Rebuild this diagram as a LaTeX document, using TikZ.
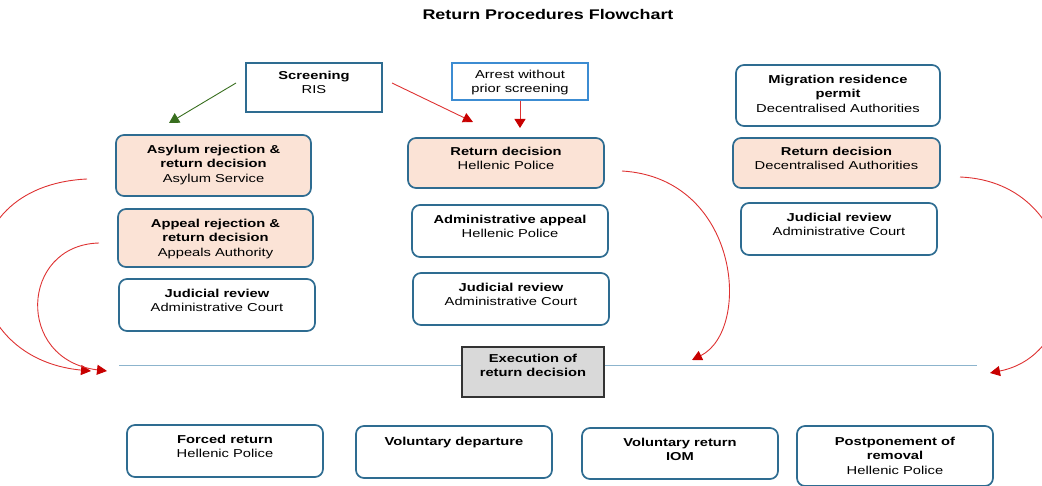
\documentclass[tikz,border=0pt]{standalone}
\usepackage{fontspec}
\setmainfont[FakeStretch=1.28]{Liberation Sans}
\usetikzlibrary{arrows.meta,calc}
\definecolor{boxblue}{RGB}{46,108,145}
\definecolor{peach}{RGB}{251,227,214}
\definecolor{arrred}{RGB}{222,50,50}
\definecolor{headred}{RGB}{200,0,0}
\definecolor{arrgreen}{RGB}{56,110,30}
\definecolor{hline}{RGB}{140,180,205}
\definecolor{arrestblue}{RGB}{60,140,210}
\definecolor{execgray}{RGB}{217,217,217}
\begin{document}
\begin{tikzpicture}[x=1pt,y=-1pt,
  rbox/.style={draw=boxblue, line width=1.7pt, rounded corners=8pt, fill=white, inner sep=0pt},
  pbox/.style={rbox, fill=peach},
  sbox/.style={draw=boxblue, line width=1.7pt, fill=white, inner sep=0pt},
  ebox/.style={draw=black!80, line width=1.6pt, fill=execgray, inner sep=0pt},
  txt/.style={anchor=north, inner sep=0pt, align=center, font=\fontsize{11.5}{14.5}\selectfont},
  redarr/.style={draw=arrred, line width=0.9pt, -{Triangle[length=10pt,width=10pt,color=headred]}},
  greenarr/.style={draw=arrgreen, line width=0.9pt, -{Triangle[length=10pt,width=11pt,color=arrgreen]}}]
\useasboundingbox (0,0) rectangle (1042,486);
\begin{scope}
\clip (0,0) rectangle (1042,486);

% title
\node[font=\fontsize{14}{16}\selectfont\bfseries, inner sep=0pt] (title) at (548,15) {Return Procedures Flowchart};

% horizontal line
\coordinate (hl1) at (119,366);
\coordinate (hl2) at (977,366);
\draw[hline, line width=1pt] (hl1) -- (hl2);

% top boxes
\node[sbox, minimum width=136pt, minimum height=49pt] (scr) at (314,87.5) {};
\node[txt] (scrt) at ([yshift=-8.5pt]scr.north) {\textbf{Screening}\\RIS};
\node[sbox, draw=arrestblue, line width=1.3pt, minimum width=136pt, minimum height=37pt] (arr) at (520,81.5) {};
\begin{scope}
\clip ([yshift=-1pt]arr.north west) rectangle ([yshift=5.5pt]arr.south east);
\node[txt] (arrt) at ([yshift=-7.5pt]arr.north) {Arrest without\\prior screening};
\end{scope}
\node[rbox, minimum width=204pt, minimum height=61pt] (mig) at (838,95.5) {};
\node[txt] (migt) at ([yshift=-10.5pt]mig.north) {\textbf{Migration residence}\\\textbf{permit}\\Decentralised Authorities};

% column 1
\node[pbox, minimum width=195pt, minimum height=61pt] (asy) at (213.5,165.5) {};
\node[txt] (asyt) at ([yshift=-10.5pt]asy.north) {\textbf{Asylum rejection \&}\\\textbf{return decision}\\Asylum Service};
\node[pbox, minimum width=195pt, minimum height=58pt] (app) at (215.5,238) {};
\node[txt] (appt) at ([yshift=-10.5pt]app.north) {\textbf{Appeal rejection \&}\\\textbf{return decision}\\Appeals Authority};
\node[rbox, minimum width=196pt, minimum height=52pt] (jr1) at (217,305) {};
\node[txt] (jr1t) at ([yshift=-10.5pt]jr1.north) {\textbf{Judicial review}\\Administrative Court};

% column 2
\node[pbox, minimum width=196pt, minimum height=50pt] (rdhp) at (506,163) {};
\node[txt] (rdhpt) at ([yshift=-9.5pt]rdhp.north) {\textbf{Return decision}\\Hellenic Police};
\node[rbox, minimum width=196pt, minimum height=52pt] (adm) at (510,231) {};
\node[txt] (admt) at ([yshift=-10.5pt]adm.north) {\textbf{Administrative appeal}\\Hellenic Police};
\node[rbox, minimum width=196pt, minimum height=52pt] (jr2) at (511,299) {};
\node[txt] (jr2t) at ([yshift=-10.5pt]jr2.north) {\textbf{Judicial review}\\Administrative Court};

% column 3
\node[pbox, minimum width=207pt, minimum height=50pt] (rdda) at (836.5,163) {};
\node[txt] (rddat) at ([yshift=-9.5pt]rdda.north) {\textbf{Return decision}\\Decentralised Authorities};
\node[rbox, minimum width=196pt, minimum height=52pt] (jr3) at (839,229) {};
\node[txt] (jr3t) at ([yshift=-10.5pt]jr3.north) {\textbf{Judicial review}\\Administrative Court};

% execution
\node[ebox, minimum width=142pt, minimum height=50pt] (exe) at (533,372) {};
\node[txt] (exet) at ([yshift=-7.5pt]exe.north) {\textbf{Execution of}\\\textbf{return decision}};

% bottom boxes
\node[rbox, minimum width=196pt, minimum height=52pt] (fr) at (225,451) {};
\node[txt] (frt) at ([yshift=-10.5pt]fr.north) {\textbf{Forced return}\\Hellenic Police};
\node[rbox, minimum width=196pt, minimum height=52pt] (vd) at (454,452) {};
\node[txt] (vdt) at ([yshift=-11.5pt]vd.north) {\textbf{Voluntary departure}};
\node[rbox, minimum width=196pt, minimum height=51pt] (vr) at (680,453.5) {};
\node[txt] (vrt) at ([yshift=-10.5pt]vr.north) {\textbf{Voluntary return}\\\textbf{IOM}};
\node[rbox, minimum width=196pt, minimum height=60pt] (pp) at (895,456) {};
\node[txt] (ppt) at ([yshift=-11.5pt]pp.north) {\textbf{Postponement of}\\\textbf{removal}\\Hellenic Police};

% straight arrows
\coordinate (g1) at (236,83);
\coordinate (g2) at (169,123);
\draw[greenarr] (g1) -- (g2);
\coordinate (r1) at (392,83);
\coordinate (r2) at (473,122);
\draw[redarr] (r1) -- (r2);
\coordinate (a2) at (520,128);
\draw[redarr, -{Triangle[length=9pt,width=11pt,color=headred]}] (arr.south) -- (a2);

% curved arrows
\coordinate (c1s) at (87,179);
\coordinate (c1e) at (91,371);
\draw[redarr] (c1s) .. controls (-58,186) and (-48,358) .. (c1e);
\coordinate (c2s) at (99,243);
\coordinate (c2e) at (107,371);
\draw[redarr] (c2s) .. controls (20,245) and (15,360) .. (c2e);
\coordinate (c3s) at (622,171);
\coordinate (c3e) at (692,360);
\draw[redarr] (c3s) .. controls (740,178) and (752,330) .. (c3e);
\coordinate (c4s) at (960,177);
\coordinate (c4e) at (990,373);
\draw[redarr] (c4s) .. controls (1085,182) and (1095,352) .. (c4e);
\end{scope}
\end{tikzpicture}
\end{document}
